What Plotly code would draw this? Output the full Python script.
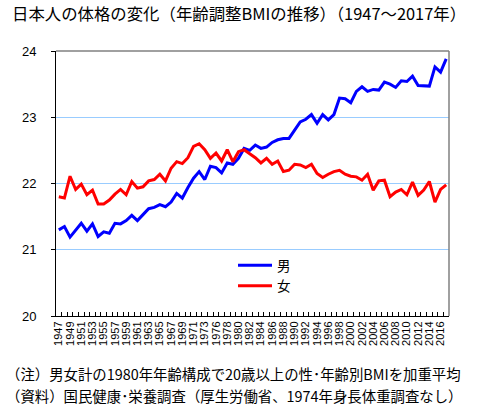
import plotly.graph_objects as go

years = [str(y) for y in range(1947, 2018) if y != 1974]

male = [21.30, 21.35, 21.19, 21.30, 21.40, 21.28, 21.39, 21.20, 21.27, 21.25,
        21.40, 21.39, 21.44, 21.52, 21.44, 21.53, 21.62, 21.64, 21.68, 21.65,
        21.72, 21.85, 21.78, 21.94, 22.08, 22.18, 22.06, 22.26, 22.24, 22.16,
        22.31, 22.29, 22.38, 22.53, 22.50, 22.58, 22.53, 22.55, 22.62, 22.66,
        22.68, 22.68, 22.80, 22.93, 22.97, 23.04, 22.91, 23.04, 22.96, 23.04,
        23.29, 23.28, 23.22, 23.39, 23.46, 23.39, 23.42, 23.41, 23.53, 23.50,
        23.45, 23.55, 23.54, 23.62, 23.48, 23.48, 23.47, 23.76, 23.68, 23.88]

female = [21.80, 21.78, 22.11, 21.91, 21.99, 21.83, 21.90, 21.69, 21.69, 21.75,
          21.84, 21.91, 21.83, 22.03, 21.93, 21.95, 22.04, 22.06, 22.14, 22.04,
          22.23, 22.33, 22.30, 22.39, 22.56, 22.60, 22.51, 22.38, 22.46, 22.34,
          22.51, 22.33, 22.48, 22.51, 22.45, 22.39, 22.31, 22.38, 22.29, 22.34,
          22.18, 22.20, 22.29, 22.28, 22.24, 22.29, 22.15, 22.09, 22.14, 22.18,
          22.20, 22.14, 22.11, 22.10, 22.05, 22.14, 21.90, 22.04, 22.05, 21.80,
          21.87, 21.91, 21.83, 22.02, 21.82, 21.90, 22.03, 21.72, 21.91, 21.98]

tick_text = [y if i % 2 == 0 else "" for i, y in enumerate(years)]

title_text = "日本人の体格の変化（年齢調整BMIの推移）（1947〜2017年）"
note1 = "（注）男女計の1980年年齢構成で20歳以上の性･年齢別BMIを加重平均"
note2 = "（資料）国民健康･栄養調査（厚生労働省、1974年身長体重調査なし）"

W, H = 477, 411
L, R, T, B = 56, 28, 51, 95
pw = W - L - R
ph = H - T - B

FONT = "Noto Sans CJK JP"

fig = go.Figure()
fig.add_trace(go.Scatter(x=years, y=male, mode="lines", name="男",
                         line=dict(color="#0000FF", width=3)))
fig.add_trace(go.Scatter(x=years, y=female, mode="lines", name="女",
                         line=dict(color="#FF0000", width=3)))

def px_x(p):
    return (p - L) / pw

def px_y(p):
    return 1 - (p - T) / ph

fig.update_layout(
    width=W, height=H,
    margin=dict(l=L, r=R, t=T, b=B, pad=0),
    paper_bgcolor="white", plot_bgcolor="white",
    font=dict(family=FONT, color="black"),
    title=dict(text=title_text, x=12 / W, xanchor="left", xref="container",
               y=1 - 14 / H, yanchor="middle", yref="container",
               font=dict(size=16.4, family=FONT, color="black")),
    showlegend=True,
    legend=dict(x=px_x(233), xanchor="left", y=px_y(250), yanchor="top",
                bgcolor="rgba(0,0,0,0)", font=dict(size=13.5, family=FONT),
                tracegroupgap=0, itemwidth=34),
    xaxis=dict(type="category", categoryorder="array", categoryarray=years,
               tickmode="array", tickvals=years, ticktext=tick_text,
               tickangle=-90, tickfont=dict(size=11, family="Liberation Sans"),
               tickson="boundaries", ticks="inside", ticklen=4, tickcolor="black",
               showline=True, linecolor="black", linewidth=1,
               showgrid=False, zeroline=False, range=[-0.5, len(years) - 0.5]),
    yaxis=dict(range=[20, 24], dtick=1, tick0=20,
               tickfont=dict(size=13, family="Liberation Sans"),
               ticks="outside", ticklen=4, tickcolor="black",
               showline=True, linecolor="black", linewidth=1,
               showgrid=True, gridcolor="#99CCFF", gridwidth=1,
               zeroline=False, ticklabelstandoff=12),
    shapes=[
        dict(type="line", xref="paper", yref="paper", x0=0, x1=1, y0=1, y1=1,
             line=dict(color="#808080", width=1.5), layer="above"),
        dict(type="line", xref="paper", yref="paper", x0=1, x1=1, y0=0, y1=1,
             line=dict(color="#808080", width=1.5), layer="above"),
    ],
    annotations=[
        dict(text=note1, xref="paper", yref="paper", x=px_x(4), y=px_y(373),
             xanchor="left", yanchor="middle", showarrow=False,
             font=dict(size=14.4, family=FONT, color="black")),
        dict(text=note2, xref="paper", yref="paper", x=px_x(4), y=px_y(395),
             xanchor="left", yanchor="middle", showarrow=False,
             font=dict(size=14.4, family=FONT, color="black")),
    ],
)

fig.write_html("out.html", config={"displayModeBar": False},
               post_script="document.body.style.margin='0px';")
